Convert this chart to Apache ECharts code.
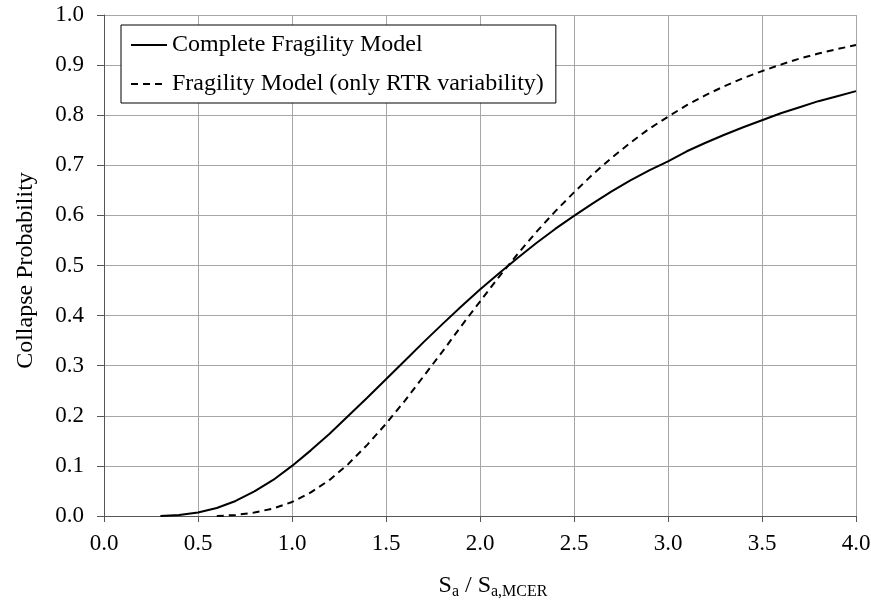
<!DOCTYPE html>
<html>
<head>
<meta charset="utf-8">
<script src="https://cdn.jsdelivr.net/npm/echarts@6/dist/echarts.min.js"></script>
<style>
	html, body { margin: 0; padding: 0; background: #fff; }
	#chart { width: 871px; height: 602px; }
</style>
</head>
<body>
<div id="chart"></div>
<script>
// Sa / Sa,MCER
var saRatio = [0.3, 0.4, 0.5, 0.6, 0.7, 0.8, 0.9, 1.0, 1.1, 1.2, 1.3, 1.4, 1.5, 1.6, 1.7, 1.8, 1.9, 2.0,
	2.1, 2.2, 2.3, 2.4, 2.5, 2.6, 2.7, 2.8, 2.9, 3.0, 3.1, 3.2, 3.3, 3.4, 3.5, 3.6, 3.7, 3.8, 3.9, 4.0];
// 完整易损性模型
var completeModel = [0.000, 0.002, 0.007, 0.016, 0.030, 0.049, 0.072, 0.100, 0.131, 0.164, 0.200, 0.236,
	0.273, 0.310, 0.347, 0.383, 0.418, 0.452, 0.484, 0.515, 0.545, 0.573, 0.599, 0.624, 0.648, 0.670,
	0.690, 0.708, 0.728, 0.745, 0.761, 0.776, 0.790, 0.804, 0.816, 0.828, 0.838, 0.848];
// 只考虑 RTR 变异性
var rtrOnlyModel = [null, null, null, 0.000, 0.002, 0.007, 0.015, 0.028, 0.047, 0.072, 0.104, 0.142,
	0.184, 0.230, 0.279, 0.328, 0.379, 0.428, 0.477, 0.523, 0.567, 0.608, 0.646, 0.682, 0.715, 0.745,
	0.773, 0.797, 0.820, 0.840, 0.858, 0.874, 0.888, 0.901, 0.913, 0.923, 0.932, 0.940];

var font = 'Liberation Serif, Times New Roman, serif';

function pairs(ys) {
	var out = [];
	for (var i = 0; i < saRatio.length; i++) {
		if (ys[i] != null) {
			out.push([saRatio[i], ys[i]]);
		}
	}
	return out;
}

var chart = echarts.init(document.getElementById('chart'));
var options = {
	animation : false,
	grid : {
		left : 104,
		top : 15,
		right : 15,
		bottom : 86,
		outerBoundsMode : 'none'
	},
	legend : {
		orient : 'vertical',
		left : 121,
		top : 25,
		padding : [ 8, 12, 7, 9 ],
		itemGap : 15,
		itemWidth : 36,
		itemHeight : 14,
		backgroundColor : '#fff',
		borderColor : '#000',
		borderWidth : 1,
		itemStyle : { opacity : 0 },
		textStyle : {
			fontFamily : font,
			fontSize : 24,
			color : '#000'
		},
		data : [ 'Complete Fragility Model', 'Fragility Model (only RTR variability)' ]
	},
	xAxis : {
		type : 'value',
		min : 0,
		max : 4,
		interval : 0.5,
		name : '{b|S}{s|a}{b| / S}{s|a,MCER}',
		nameLocation : 'middle',
		nameGap : 58,
		nameTextStyle : {
			padding : [ 0, 0, 0, 26 ],
			rich : {
				b : { fontFamily : font, fontSize : 24, color : '#000', lineHeight : 30, verticalAlign : 'top' },
				s : { fontFamily : font, fontSize : 16, color : '#000', lineHeight : 30, verticalAlign : 'middle', padding : [ 6, 0, 0, 0 ] }
			}
		},
		axisLine : { lineStyle : { color : '#555', width : 1 } },
		axisTick : { show : true, length : 6, lineStyle : { color : '#555' } },
		axisLabel : {
			margin : 16,
			fontFamily : font,
			fontSize : 23,
			color : '#000',
			formatter : function(v) { return v.toFixed(1); }
		},
		splitLine : { show : true, lineStyle : { color : '#a6a6a6', width : 1 } }
	},
	yAxis : {
		type : 'value',
		min : 0,
		max : 1,
		interval : 0.1,
		name : 'Collapse Probability',
		nameLocation : 'middle',
		nameGap : 66,
		nameTextStyle : { fontFamily : font, fontSize : 24, color : '#000', padding : [ 0, 10, 0, 0 ] },
		axisLine : { show : true, lineStyle : { color : '#555', width : 1 } },
		axisTick : { show : true, length : 7, lineStyle : { color : '#555' } },
		axisLabel : {
			margin : 20,
			fontFamily : font,
			fontSize : 23,
			color : '#000',
			formatter : function(v) { return v.toFixed(1); }
		},
		splitLine : { show : true, lineStyle : { color : '#a6a6a6', width : 1 } }
	},
	series : [ {
		name : 'Complete Fragility Model',
		type : 'line',
		symbol : 'none',
		lineStyle : { color : '#000', width : 2 },
		itemStyle : { color : '#000' },
		data : pairs(completeModel)
	}, {
		name : 'Fragility Model (only RTR variability)',
		type : 'line',
		symbol : 'none',
		lineStyle : { color : '#000', width : 2, type : [ 7, 5 ] },
		itemStyle : { color : '#000' },
		data : pairs(rtrOnlyModel)
	} ]
};
chart.setOption(options);
</script>
</body>
</html>
